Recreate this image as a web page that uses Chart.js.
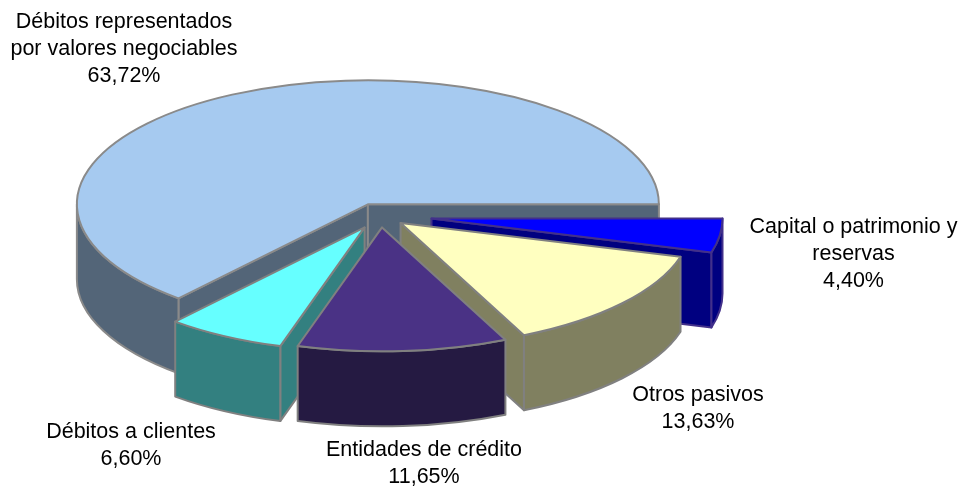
<!DOCTYPE html>
<html>
<head>
<meta charset="utf-8">
<title>Pasivo</title>
<script src="https://cdn.jsdelivr.net/npm/chart.js@4"></script>
<style>
    html, body { margin: 0; padding: 0; background: #ffffff; }
</style>
</head>
<body>
<canvas id="pieChart" width="970" height="490"></canvas>
<script>
// Slices run clockwise, starting at three o'clock
const categories = [
    ['Capital o patrimonio y', 'reservas'],
    ['Otros pasivos'],
    ['Entidades de crédito'],
    ['Débitos a clientes'],
    ['Débitos representados', 'por valores negociables']
];
const values = [4.40, 13.63, 11.65, 6.60, 63.72];
const explode = [52, 27, 28, 32, 29];

const topColors = ['#0000ff', '#ffffc0', '#4a3285', '#66ffff', '#a6caf0'];
const wallColors = ['#000080', '#808060', '#251a42', '#338080', '#536578'];
const edgeColors = ['#42308a', '#808080', '#808080', '#808080', '#8a8a8a'];

// center of each label block, same order as categories
const labelCenters = [[853.5, 227], [698, 395], [424, 450], [131, 432], [124, 22]];

const SQUASH = 0.426;
const DEPTH = 75;
const LINE_HEIGHT = 27;
const drawOrder = [4, 0, 1, 3, 2];

function sliceGeometry(arc, i) {
    const mid = (arc.startAngle + arc.endAngle) / 2;
    return {
        x: arc.x + explode[i] * Math.cos(mid),
        y: arc.y + explode[i] * Math.sin(mid) * SQUASH,
        r: arc.outerRadius,
        start: arc.startAngle,
        end: arc.endAngle
    };
}

function paintFace(ctx, fill, edge, trace) {
    ctx.beginPath();
    trace();
    ctx.closePath();
    ctx.fillStyle = fill;
    ctx.fill();
    ctx.strokeStyle = edge;
    ctx.stroke();
}

function drawWalls(ctx, arc, i) {
    const g = sliceGeometry(arc, i);
    const ry = g.r * SQUASH;
    const radial = function (angle) {
        const ex = g.x + g.r * Math.cos(angle);
        const ey = g.y + ry * Math.sin(angle);
        paintFace(ctx, wallColors[i], edgeColors[i], function () {
            ctx.moveTo(g.x, g.y);
            ctx.lineTo(ex, ey);
            ctx.lineTo(ex, ey + DEPTH);
            ctx.lineTo(g.x, g.y + DEPTH);
        });
    };
    // cut faces only show when they turn towards the viewer
    if (Math.cos(g.start) < 0) radial(g.start);
    if (Math.cos(g.end) > 0) radial(g.end);

    const from = Math.max(g.start, 0);
    const to = Math.min(g.end, Math.PI);
    if (to > from) {
        paintFace(ctx, wallColors[i], edgeColors[i], function () {
            ctx.ellipse(g.x, g.y, g.r, ry, 0, from, to);
            ctx.ellipse(g.x, g.y + DEPTH, g.r, ry, 0, to, from, true);
        });
    }
}

function drawTop(ctx, arc, i) {
    const g = sliceGeometry(arc, i);
    ctx.save();
    ctx.translate(g.x, g.y);
    ctx.scale(1, SQUASH);
    ctx.translate(-arc.x, -arc.y);
    arc.draw(ctx);
    ctx.restore();

    // outline traced apart so the squash does not thin the line
    ctx.beginPath();
    ctx.moveTo(g.x, g.y);
    ctx.ellipse(g.x, g.y, g.r, g.r * SQUASH, 0, g.start, g.end);
    ctx.closePath();
    ctx.strokeStyle = edgeColors[i];
    ctx.stroke();
}

const pie3d = {
    id: 'pie3d',
    beforeDatasetDraw(chart, args) {
        const ctx = chart.ctx;
        const arcs = args.meta.data;
        ctx.save();
        ctx.lineWidth = 2;
        ctx.lineJoin = 'round';
        drawOrder.forEach(i => drawWalls(ctx, arcs[i], i));
        drawOrder.forEach(i => drawTop(ctx, arcs[i], i));
        ctx.restore();
        return false;
    },
    afterDraw(chart) {
        const ctx = chart.ctx;
        ctx.save();
        ctx.font = '21.5px "Liberation Sans", Arial, sans-serif';
        ctx.fillStyle = '#000000';
        ctx.textAlign = 'center';
        ctx.textBaseline = 'middle';
        categories.forEach((lines, i) => {
            const percent = values[i].toFixed(2).replace('.', ',') + '%';
            lines.concat(percent).forEach((text, n) => {
                ctx.fillText(text, labelCenters[i][0], labelCenters[i][1] + n * LINE_HEIGHT);
            });
        });
        ctx.restore();
    }
};

new Chart(document.getElementById('pieChart'), {
    type: 'pie',
    plugins: [pie3d],
    data: {
        labels: categories,
        datasets: [{
            data: values,
            backgroundColor: topColors,
            borderWidth: 0,
            clip: false
        }]
    },
    options: {
        responsive: false,
        animation: false,
        rotation: 90,
        radius: 291,
        // leaves the pie center at 380, 215.5
        layout: { padding: { right: 210, bottom: 59 } },
        plugins: {
            legend: { display: false },
            tooltip: { enabled: false }
        }
    }
});
</script>
</body>
</html>
